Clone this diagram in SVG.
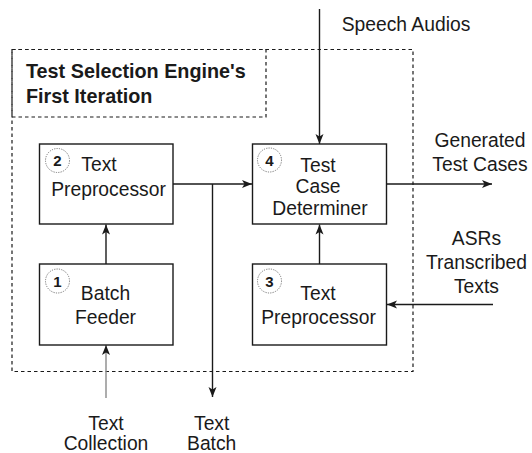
<svg xmlns="http://www.w3.org/2000/svg" width="532" height="453" viewBox="0 0 532 453">
<defs>
<style>
.bg{fill:#ffffff}
.box{fill:#ffffff;stroke:#1a1a1a;stroke-width:1.4}
.grp{fill:none;stroke:#1a1a1a;stroke-width:1.2;stroke-dasharray:3.5 3}
.badge{fill:#ffffff;stroke:#777;stroke-width:1;stroke-dasharray:1.2 1.2}
.num{font-family:"Liberation Sans",Arial,sans-serif;font-size:15px;font-weight:bold;fill:#1a1a1a;text-anchor:middle}
.lbl{font-family:"Liberation Sans",Arial,sans-serif;font-size:19.3px;fill:#1a1a1a;text-anchor:middle}
.title{font-family:"Liberation Sans",Arial,sans-serif;font-size:19.8px;font-weight:bold;fill:#1a1a1a}
.edge{fill:none;stroke:#1a1a1a;stroke-width:1.4}
.gray{stroke:#8a8a8a}
</style>
<marker id="arr" markerUnits="userSpaceOnUse" markerWidth="12" markerHeight="10" refX="10" refY="5" orient="auto">
<path d="M0,1 L10,5 L0,9 L2.5,5 Z" fill="#1a1a1a"/>
</marker>
</defs>
<rect class="bg" x="0" y="0" width="532" height="453"/>
<g id="engine">
<rect class="grp" x="12" y="49.5" width="401" height="322"/>
</g>
<g id="title">
<rect class="grp" x="12" y="49.5" width="254" height="67.5"/>
<text class="title" x="26" y="78">Test Selection Engine's</text>
<text class="title" x="26" y="103">First Iteration</text>
</g>
<g id="connectors">
<path class="edge" d="M319.5,9 V144" marker-end="url(#arr)"/>
<path class="edge" d="M173,184 H252" marker-end="url(#arr)"/>
<path class="edge" d="M212.5,184 V397" marker-end="url(#arr)"/>
<path class="edge" d="M106,264 V224.5" marker-end="url(#arr)"/>
<path class="edge gray" d="M106,398 V345" marker-end="url(#arr)"/>
<path class="edge" d="M386.5,184 H492" marker-end="url(#arr)"/>
<path class="edge" d="M493,304.5 H387" marker-end="url(#arr)"/>
<path class="edge" d="M319.5,264 V224.5" marker-end="url(#arr)"/>
</g>
<g id="node2">
<rect class="box" x="39.5" y="144" width="133.5" height="80"/>
<circle class="badge" cx="57.5" cy="160.5" r="12"/>
<text class="num" x="57.5" y="166">2</text>
<text class="lbl" x="99" y="171">Text</text>
<text class="lbl" x="108.5" y="196">Preprocessor</text>
</g>
<g id="node1">
<rect class="box" x="39.5" y="264" width="133.5" height="81"/>
<circle class="badge" cx="57.5" cy="281" r="12"/>
<text class="num" x="57.5" y="286.5">1</text>
<text class="lbl" x="105.5" y="300">Batch</text>
<text class="lbl" x="105.5" y="324">Feeder</text>
</g>
<g id="node4">
<rect class="box" x="252.5" y="144" width="134" height="80"/>
<circle class="badge" cx="269.5" cy="160" r="12"/>
<text class="num" x="269.5" y="165.5">4</text>
<text class="lbl" x="318" y="171.5">Test</text>
<text class="lbl" x="318" y="193">Case</text>
<text class="lbl" x="320" y="214.5">Determiner</text>
</g>
<g id="node3">
<rect class="box" x="252.5" y="264" width="134" height="81"/>
<circle class="badge" cx="269.5" cy="281" r="12"/>
<text class="num" x="269.5" y="286.5">3</text>
<text class="lbl" x="318" y="300">Text</text>
<text class="lbl" x="318.5" y="324">Preprocessor</text>
</g>
<g id="labels">
<text class="lbl" x="406" y="30.5">Speech Audios</text>
<text class="lbl" x="480" y="147">Generated</text>
<text class="lbl" x="480" y="170.5">Test Cases</text>
<text class="lbl" x="476.5" y="245">ASRs</text>
<text class="lbl" x="476.5" y="269">Transcribed</text>
<text class="lbl" x="476.5" y="292.5">Texts</text>
<text class="lbl" x="106" y="430">Text</text>
<text class="lbl" x="106" y="450">Collection</text>
<text class="lbl" x="211.7" y="430">Text</text>
<text class="lbl" x="211.7" y="450">Batch</text>
</g>
</svg>
